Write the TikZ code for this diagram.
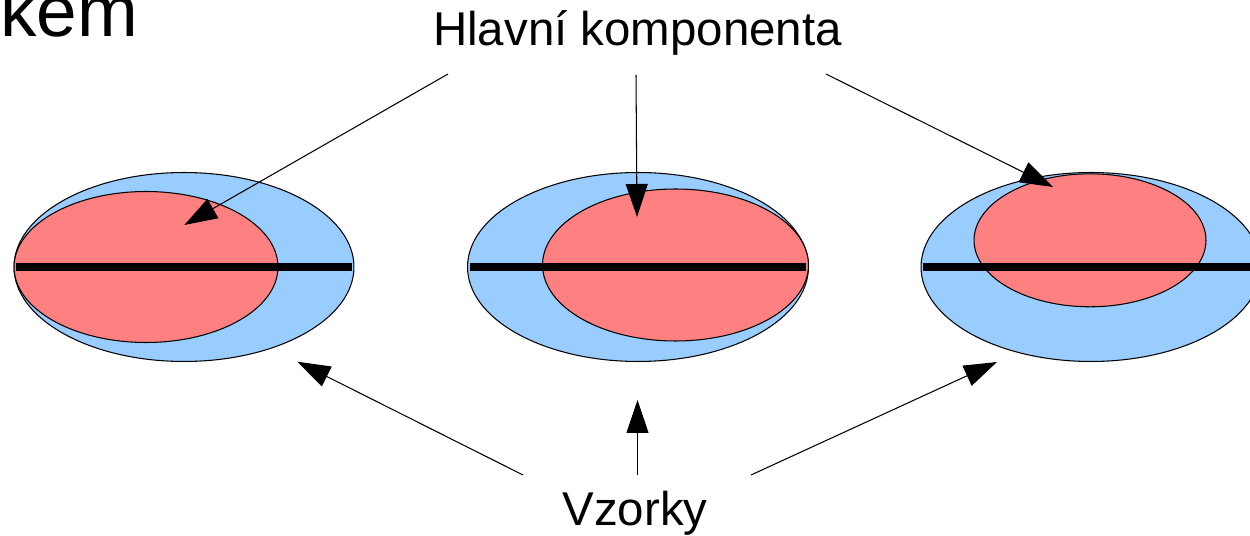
\documentclass[tikz,border=0pt]{standalone}
\usepackage{fontspec}
\setmainfont{Liberation Sans}
\usetikzlibrary{arrows.meta}

\definecolor{sampleblue}{HTML}{99CCFF}
\definecolor{pcred}{HTML}{FF8080}

\tikzset{
  sample/.style={draw=black, line width=0.6pt, fill=sampleblue},
  component/.style={draw=black, line width=0.6pt, fill=pcred},
  axisline/.style={line width=4pt},
  pointer/.style={line width=0.6pt, -{Triangle[length=0.66cm, width=0.44cm]}},
  label/.style={inner sep=0pt, anchor=base, font=\fontsize{27}{32}\selectfont},
}

\begin{document}
\begin{tikzpicture}[x=0.02cm, y=-0.02cm]
  \clip (0,0) rectangle (1250,536);
  \useasboundingbox (0,0) rectangle (1250,536);

  % leftover title fragment
  \node[inner sep=0pt, anchor=base west, font=\fontsize{41.5}{48}\selectfont] (title) at (0,37) {kem};

  % left sample cloud
  \draw[sample] (184,267) ellipse [x radius=3.4cm, y radius=1.89cm];
  \draw[component] (146,267) ellipse [x radius=2.64cm, y radius=1.51cm];
  \draw[axisline] (16,267) -- (352,267);

  % middle sample cloud
  \draw[sample] (638,267) ellipse [x radius=3.41cm, y radius=1.89cm];
  \draw[component] (675.5,265) ellipse [x radius=2.66cm, y radius=1.52cm];
  \draw[axisline] (470,267) -- (806,267);

  % right sample cloud
  \draw[sample] (1091,267) ellipse [x radius=3.4cm, y radius=1.89cm];
  \draw[component] (1090,240.3) ellipse [x radius=2.32cm, y radius=1.33cm];
  \draw[axisline] (923,267) -- (1262,267);

  % labels
  \node[label] (hk) at (637.5,46) {Hlavní komponenta};
  \node[label] (vz) at (635,525) {Vzorky};

  % arrow end points
  \coordinate (hkL) at (448,74);
  \coordinate (hkM) at (636,75);
  \coordinate (hkR) at (826,74);
  \coordinate (tipL) at (184.3,225);
  \coordinate (tipM) at (637,217);
  \coordinate (tipR) at (1053,187);

  \coordinate (vzL) at (523,475);
  \coordinate (vzM) at (637.5,475);
  \coordinate (vzR) at (751,475);
  \coordinate (sL) at (297.3,361.7);
  \coordinate (sM) at (637.5,400);
  \coordinate (sR) at (997,362);

  % arrows to the principal components
  \draw[pointer] (hkL) -- (tipL);
  \draw[pointer] (hkM) -- (tipM);
  \draw[pointer] (hkR) -- (tipR);

  % arrows to the samples
  \draw[pointer] (vzL) -- (sL);
  \draw[pointer] (vzM) -- (sM);
  \draw[pointer] (vzR) -- (sR);
\end{tikzpicture}
\end{document}
